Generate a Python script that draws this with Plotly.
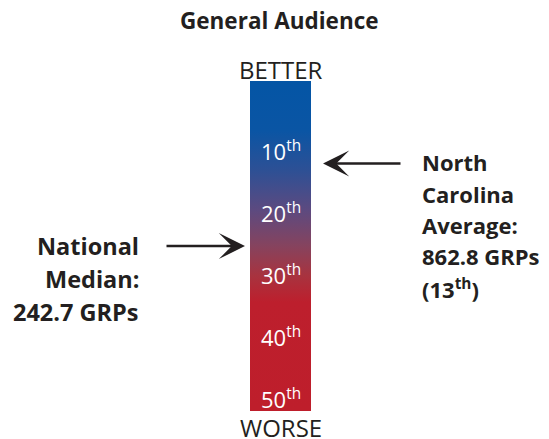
import plotly.graph_objects as go

# ranking scale: 50 states, 1st = better (top), 50th = worse (bottom)
state_ranks = [0.5, 50.5]  # outer edges of rank 1 and rank 50
tick_ranks = [10, 20, 30, 40, 50]

national_median_rank = 25.5
national_median_grps = 242.7
nc_rank = 13
nc_avg_grps = 862.8

title = "General Audience"
top_label = "BETTER"
bottom_label = "WORSE"

W, H = 549, 439
OFF = 8  # page body margin
BAR_L, BAR_R, BAR_T, BAR_B = 250, 311, 81, 411
TXT = "#231f20"
FONT = "Open Sans"


def px(x):
    # reference pixel x -> paper x (plot area == the bar)
    return (x - BAR_L) / (BAR_R - BAR_L)


def py(y):
    return (BAR_B - y) / (BAR_B - BAR_T)


def label_y(r):
    # the printed rank labels sit on a slightly tighter spacing than the bar
    return py(88 + 6.2 * r)


gradient = [
    [0.00, "#0455a5"],
    [0.15, "#0a55a4"],
    [0.27, "#2d5095"],
    [0.39, "#5c4a80"],
    [0.50, "#86435e"],
    [0.59, "#a8333f"],
    [0.67, "#bd1f2d"],
    [1.00, "#be1e2b"],
]

fig = go.Figure()
fig.add_trace(go.Scatter(
    x=[0, 1, 1, 0, 0],
    y=[state_ranks[0], state_ranks[0], state_ranks[1], state_ranks[1], state_ranks[0]],
    mode="lines",
    line=dict(width=0),
    fill="toself",
    fillgradient=dict(type="vertical", colorscale=gradient,
                      start=state_ranks[0], stop=state_ranks[1]),
    hoverinfo="skip",
    showlegend=False,
))


def text(s, x, y, size, bold=False, color=TXT, xanchor="center"):
    return dict(text=f"<b>{s}</b>" if bold else s, x=x, y=y, xref="paper", yref="paper",
                xanchor=xanchor, yanchor="middle", showarrow=False,
                font=dict(family=FONT, size=size, color=color))


ann = [
    text(title, px(279.5), py(21), 22.5, bold=True),
    text(top_label, px(280.5), py(70), 24),
    text(bottom_label, px(280.5), py(427), 24),
]

for r in tick_ranks:
    ann.append(text(f"{r}<sup>th</sup>", px(281), label_y(r), 22, color="white"))

# arrows (tip at the rank, tail offset in pixels)
ann.append(dict(text="", x=px(245), y=national_median_rank, xref="paper", yref="y",
                ax=-80, ay=0, showarrow=True, arrowhead=3, arrowsize=1.9,
                arrowwidth=2.3, arrowcolor=TXT))
ann.append(dict(text="", x=px(323), y=nc_rank, xref="paper", yref="y",
                ax=79, ay=0, showarrow=True, arrowhead=3, arrowsize=1.9,
                arrowwidth=2.3, arrowcolor=TXT))

left_lines = ["National", "Median:", f"{national_median_grps} GRPs"]
for i, s in enumerate(left_lines):
    ann.append(text(s, px(141), py(246 + 33 * i), 23.5, bold=True, xanchor="right"))

right_lines = ["North", "Carolina", "Average:", f"{nc_avg_grps} GRPs", f"({nc_rank}<sup>th</sup>)"]
for i, s in enumerate(right_lines):
    ann.append(text(s, px(420), py(162 + 31.5 * i), 22, bold=True, xanchor="left"))

fig.update_layout(
    width=W, height=H,
    margin=dict(l=BAR_L - OFF, r=W - (BAR_R - OFF), t=BAR_T - OFF, b=H - (BAR_B - OFF), pad=0),
    paper_bgcolor="white", plot_bgcolor="white",
    xaxis=dict(range=[0, 1], visible=False, fixedrange=True),
    yaxis=dict(range=[state_ranks[1], state_ranks[0]], visible=False, fixedrange=True),
    annotations=ann,
    showlegend=False,
)

fig.write_html("out.html")
